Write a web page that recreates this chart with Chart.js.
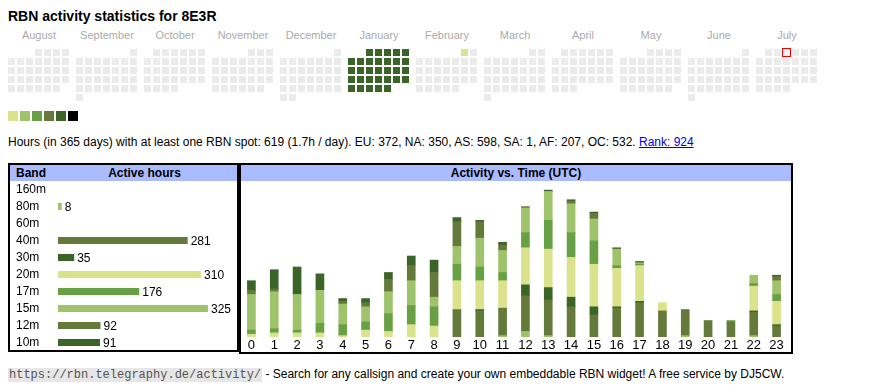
<!DOCTYPE html>
<html>
<head>
<meta charset="utf-8">
<title>RBN activity statistics for 8E3R</title>
<script src="https://cdn.jsdelivr.net/npm/chart.js@4.4.1/dist/chart.umd.min.js"></script>
<style>
  body { margin: 0; width: 870px; height: 390px; position: relative; background: #fff;
         font-family: Arial, "Liberation Sans", sans-serif; color: #000; overflow: hidden; }
  h1 { position: absolute; left: 8px; top: 8px; margin: 0; font-size: 14px; line-height: 16px; }
  .month { position: absolute; top: 29px; width: 68px; text-align: center; font-size: 11px; line-height: 13px; color: #aaa; }
  .swatch { position: absolute; top: 111px; width: 10px; height: 10px; }
  .info { position: absolute; left: 8px; top: 135px; font-size: 12px; line-height: 14px; white-space: nowrap; }
  .info a { color: #0000ee; }
  .box { position: absolute; top: 163px; border: 2px solid #000; box-sizing: border-box; }
  .head { position: absolute; left: 0; right: 0; top: 0; height: 16px; background: #aabbff;
          font-size: 12px; font-weight: bold; line-height: 16px; }
  .footer { position: absolute; left: 8px; top: 367px; font-size: 12px; line-height: 15px; white-space: nowrap; }
  .footer code { font-family: "Liberation Mono", "DejaVu Sans Mono", monospace; font-size: 12px;
                 background: #e6e6e6; color: #555; padding: 0 1px; }
  canvas { position: absolute; }
</style>
</head>
<body>
<h1>RBN activity statistics for 8E3R</h1>
<div id="months"></div>
<canvas id="calendarChart" style="left:0; top:45px; width:830px; height:60px;" width="830" height="60"></canvas>
<div id="swatches"></div>
<div class="info">Hours (in 365 days) with at least one RBN spot: 619 (1.7h / day). EU: 372, NA: 350, AS: 598, SA: 1, AF: 207, OC: 532. <a href="#">Rank: 924</a></div>

<div class="box" style="left:8px; width:231px; height:189px;">
  <div class="head"><span style="position:absolute; left:6px;">Band</span><span style="position:absolute; left:48px; width:173px; text-align:center;">Active hours</span></div>
</div>
<div class="box" style="left:239px; width:554px; height:191px;">
  <div class="head" style="text-align:center;">Activity vs. Time (UTC)</div>
</div>
<canvas id="bandChart" style="left:10px; top:180px; width:227px; height:172px;" width="227" height="172"></canvas>
<canvas id="hourChart" style="left:240px; top:181px; width:548px; height:172px;" width="548" height="172"></canvas>

<div class="footer"><code>https://rbn.telegraphy.de/activity/</code> - Search for any callsign and create your own embeddable RBN widget! A free service by DJ5CW.</div>

<script>
// calendar: Aug 2024 .. Jul 2025, levels 0 = no spot, 1..6 = legend colours
const monthNames = ['August', 'September', 'October', 'November', 'December', 'January',
                    'February', 'March', 'April', 'May', 'June', 'July'];
const firstYear = 2024;
const firstMonth = 7; // August, 0-based
const januaryLevels = [5,5,5,5,5,5,5,5,5,5,5,5,5,5,5,5,5,5,5,5,5,5,5,5,5,5,5,5,5,5,5];
const februaryLevels = [1];
const todayDate = '2025-07-03';

// band table
const bands = ['160m', '80m', '60m', '40m', '30m', '20m', '17m', '15m', '12m', '10m'];
const bandHours = [0, 8, 0, 281, 35, 310, 176, 325, 92, 91];

// activity per UTC hour and band
const hours = ['0','1','2','3','4','5','6','7','8','9','10','11','12','13','14','15','16','17','18','19','20','21','22','23'];
const hours80m = [0,0,0,0,0,0,0,0,0,0,0,1,4,1,0,0,0,0,0,1,0,0,1,0];
const hours40m = [0,0,0,0,0,0,0,0,0,20,19,20,26,26,22,16,21,25,19,19,12,11,17,8];
const hours30m = [0,0,0,0,0,0,0,0,0,0,1,0,8,9,7,6,1,1,0,0,0,0,1,1];
const hours20m = [2,3,3,3,1,5,4,9,8,21,21,20,27,28,29,31,28,26,6,0,0,0,18,17];
const hours17m = [3,3,2,7,8,6,13,14,14,12,10,6,11,21,18,17,2,1,0,0,0,1,2,5];
const hours15m = [26,27,26,24,15,11,16,18,7,13,21,16,18,21,21,16,12,1,0,0,0,0,6,10];
const hours12m = [3,2,0,0,2,3,9,11,18,18,12,4,1,0,2,4,0,0,0,0,0,0,0,3];
const hours10m = [7,14,20,12,2,3,5,7,9,3,1,2,0,1,1,1,1,1,0,0,0,0,0,1];

const levelColors = ['#ebebeb', '#dae38b', '#9fc36b', '#68a045', '#647a3a', '#3b6428', '#000000'];
const bandColors = ['#dae38b', '#9fc36b', '#68a045', '#647a3a', '#3b6428', '#dae38b', '#68a045', '#9fc36b', '#647a3a', '#3b6428'];
const font = 'Arial, "Liberation Sans", sans-serif';

const monthPitch = 68, cellPitch = 9, cellSize = 7;

// zero hours are left out so no sliver gets drawn
const skipZero = (arr) => arr.map(v => v || null);

// month labels and legend swatches
const monthsDiv = document.getElementById('months');
monthNames.forEach((name, m) => {
    const el = document.createElement('div');
    el.className = 'month';
    el.style.left = (8 + m * monthPitch - 3) + 'px';
    el.textContent = name;
    monthsDiv.appendChild(el);
});
const swatchDiv = document.getElementById('swatches');
levelColors.slice(1).forEach((c, i) => {
    const el = document.createElement('div');
    el.className = 'swatch';
    el.style.left = (8 + i * 12) + 'px';
    el.style.background = c;
    swatchDiv.appendChild(el);
});

// square point images, one per colour
function cellImage(fill, stroke) {
    const s = stroke ? cellSize + 2 : cellSize;
    const c = document.createElement('canvas');
    c.width = s;
    c.height = s;
    const g = c.getContext('2d');
    g.fillStyle = fill;
    g.fillRect(0, 0, s, s);
    if (stroke) {
        g.strokeStyle = stroke;
        g.lineWidth = 1;
        g.strokeRect(0.5, 0.5, s - 1, s - 1);
    }
    return c;
}
const levelImages = levelColors.map(c => cellImage(c));

// build calendar cells
const dayLevels = { '2025-01': januaryLevels, '2025-02': februaryLevels };
const calCells = [];
const calStyles = [];
let todayCell = null;
monthNames.forEach((name, m) => {
    const year = firstYear + Math.floor((firstMonth + m) / 12);
    const mon = (firstMonth + m) % 12;
    const days = new Date(Date.UTC(year, mon + 1, 0)).getUTCDate();
    const offset = (new Date(Date.UTC(year, mon, 1)).getUTCDay() + 6) % 7;
    const key = year + '-' + String(mon + 1).padStart(2, '0');
    const levels = dayLevels[key] || [];
    for (let d = 1; d <= days; d++) {
        const slot = offset + d - 1;
        const cell = { x: m * monthPitch + (slot % 7) * cellPitch, y: Math.floor(slot / 7) * cellPitch };
        calCells.push(cell);
        calStyles.push(levelImages[levels[d - 1] || 0]);
        if (key + '-' + String(d).padStart(2, '0') === todayDate) todayCell = cell;
    }
});

new Chart(document.getElementById('calendarChart'), {
    type: 'scatter',
    data: {
        datasets: [{
            data: [todayCell],
            pointStyle: cellImage('#f4f4f4', '#ee0000'),
            pointRadius: 4
        }, {
            data: calCells,
            pointStyle: calStyles,
            pointRadius: 4
        }]
    },
    options: {
        responsive: false,
        animation: false,
        events: [],
        layout: { padding: 0, autoPadding: false },
        scales: {
            x: { type: 'linear', display: false, min: -11.5, max: 818.5 },
            y: { type: 'linear', display: false, min: -7.5, max: 52.5, reverse: true }
        },
        plugins: { legend: { display: false }, tooltip: { enabled: false } }
    }
});

// band table with value labels
const valueLabels = {
    id: 'valueLabels',
    afterDatasetsDraw(chart) {
        const ctx = chart.ctx;
        const meta = chart.getDatasetMeta(0);
        ctx.save();
        ctx.font = '12px ' + font;
        ctx.fillStyle = '#000';
        ctx.textBaseline = 'middle';
        meta.data.forEach((bar, i) => {
            const v = chart.data.datasets[0].data[i];
            if (v > 0) ctx.fillText(v, bar.x + 3, bar.y + 1);
        });
        ctx.restore();
    }
};

new Chart(document.getElementById('bandChart'), {
    type: 'bar',
    data: {
        labels: bands,
        datasets: [{
            data: skipZero(bandHours),
            backgroundColor: bandColors,
            barThickness: 7,
            borderWidth: 0,
            inflateAmount: 0
        }]
    },
    options: {
        indexAxis: 'y',
        responsive: false,
        animation: false,
        events: [],
        layout: { padding: { left: 6, right: 17.5, top: 1, bottom: 1 } },
        scales: {
            x: { display: false, min: 0, max: 350 },
            y: {
                grid: { display: false, drawTicks: false },
                border: { display: false },
                ticks: { crossAlign: 'far', autoSkip: false, color: '#000', font: { family: font, size: 12 } },
                afterFit: (scale) => {
                    scale.width = 42;
                    scale.paddingTop = 0;
                    scale.paddingBottom = 0;
                }
            }
        },
        plugins: { legend: { display: false }, tooltip: { enabled: false } }
    },
    plugins: [valueLabels]
});

// activity vs time, stacked from the lowest band up
const stackBands = [
    ['80m', hours80m, '#9fc36b'],
    ['40m', hours40m, '#647a3a'],
    ['30m', hours30m, '#3b6428'],
    ['20m', hours20m, '#dae38b'],
    ['17m', hours17m, '#68a045'],
    ['15m', hours15m, '#9fc36b'],
    ['12m', hours12m, '#647a3a'],
    ['10m', hours10m, '#3b6428']
];

new Chart(document.getElementById('hourChart'), {
    type: 'bar',
    data: {
        labels: hours,
        datasets: stackBands.map(([label, data, color]) => ({
            label: label,
            data: skipZero(data),
            backgroundColor: color,
            barThickness: 8,
            borderWidth: 0
        }))
    },
    options: {
        responsive: false,
        animation: false,
        events: [],
        layout: { padding: { top: 5, left: 0, right: 0, bottom: 0 } },
        scales: {
            x: {
                stacked: true,
                grid: { display: false, drawTicks: false },
                border: { display: false },
                ticks: { padding: 1, color: '#000', font: { family: font, size: 13 }, autoSkip: false, maxRotation: 0 },
                afterFit: (scale) => { scale.height = 16; }
            },
            y: { stacked: true, display: false, min: 0, max: 110 }
        },
        plugins: { legend: { display: false }, tooltip: { enabled: false } }
    }
});
</script>
</body>
</html>
